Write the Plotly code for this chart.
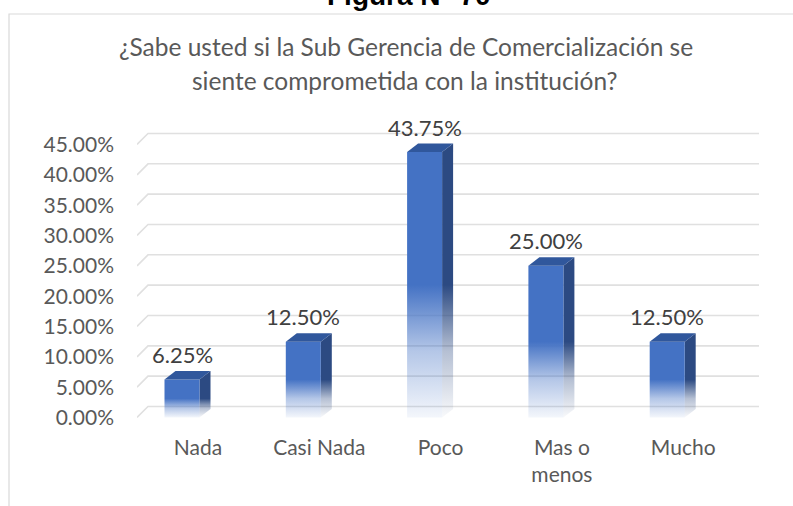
import plotly.graph_objects as go

# datos (porcentajes)
categorias = ["Nada", "Casi Nada", "Poco", "Mas o<br>menos", "Mucho"]
porcentajes = [6.25, 12.50, 43.75, 25.00, 12.50]
etiquetas = ["6.25%", "12.50%", "43.75%", "25.00%", "12.50%"]
ticks_y = [0, 5, 10, 15, 20, 25, 30, 35, 40, 45]
ticks_y_txt = ["0.00%", "5.00%", "10.00%", "15.00%", "20.00%",
               "25.00%", "30.00%", "35.00%", "40.00%", "45.00%"]

titulo_1 = "¿Sabe usted si la Sub Gerencia de Comercialización se"
titulo_2 = "siente comprometida con la institución?"
figura = "Figura N° 70"

# geometria (px -> unidades de eje)
W, H = 793, 506
L, R, T, B = 137, 34, 100, 81
PX_X = 121.3            # px por categoria
PX_Y = 6.067            # px por 1 %
x_min = -(198 - L) / PX_X
x_max = x_min + (W - L - R) / PX_X
y_min = -((H - B) - 417.5) / PX_Y
y_max = y_min + (H - T - B) / PX_Y

ancho = 35 / PX_X
desp = 16 / PX_X        # la barra queda un poco a la izquierda de la etiqueta
dx = 11 / PX_X          # profundidad 3D
dy = 8.5 / PX_Y
gdy = 11 / PX_Y         # pared del fondo

AZUL = "68,114,196"
LADO = "44,74,130"
TAPA = "#30579C"
GRIS = "#595959"
FUENTE = "Lato"


def py(px):
    # pixel vertical -> coordenada paper
    return (H - B - px) / (H - T - B)


def pxx(px):
    return (px - L) / (W - L - R)


fig = go.Figure()

# lineas de la cuadricula sobre la pared del fondo
for t in ticks_y:
    fig.add_trace(go.Scatter(
        x=[x_min, x_min + dx, x_max],
        y=[t, t + gdy, t + gdy],
        mode="lines", line=dict(color="#E0E0E0", width=1.6),
        hoverinfo="skip", showlegend=False))

for i, v in enumerate(porcentajes):
    x0 = i - desp - ancho / 2
    x1 = i - desp + ancho / 2
    # cara lateral
    fig.add_trace(go.Scatter(
        x=[x1, x1 + dx, x1 + dx, x1, x1], y=[0, dy, v + dy, v, 0],
        mode="lines", line=dict(width=0), fill="toself",
        fillgradient=dict(type="vertical", start=0, stop=v,
                          colorscale=[[0, f"rgba({LADO},0.03)"], [0.25, f"rgba({LADO},0.35)"],
                                      [0.5, f"rgba({LADO},1)"], [1, f"rgba({LADO},1)"]]),
        hoverinfo="skip", showlegend=False))
    # cara frontal
    fig.add_trace(go.Scatter(
        x=[x0, x1, x1, x0, x0], y=[0, 0, v, v, 0],
        mode="lines", line=dict(width=0), fill="toself",
        fillgradient=dict(type="vertical", start=0, stop=v,
                          colorscale=[[0, f"rgba({AZUL},0.06)"], [0.25, f"rgba({AZUL},0.4)"],
                                      [0.5, f"rgba({AZUL},1)"], [1, f"rgba({AZUL},1)"]]),
        name=categorias[i], showlegend=False))
    # tapa
    fig.add_trace(go.Scatter(
        x=[x0, x1, x1 + dx, x0 + dx, x0], y=[v, v, v + dy, v + dy, v],
        mode="lines", line=dict(width=0), fill="toself", fillcolor=TAPA,
        hoverinfo="skip", showlegend=False))
    fig.add_annotation(x=i - desp, y=v, text=etiquetas[i], showarrow=False,
                       yanchor="middle", yshift=25,
                       font=dict(family=FUENTE, size=22, color="#404040"))

# titulos
fig.add_annotation(xref="paper", yref="paper", x=pxx(406), y=py(47), text=titulo_1,
                   showarrow=False, yanchor="middle",
                   font=dict(family=FUENTE, size=24.5, color=GRIS))
fig.add_annotation(xref="paper", yref="paper", x=pxx(404), y=py(81), text=titulo_2,
                   showarrow=False, yanchor="middle",
                   font=dict(family=FUENTE, size=24.5, color=GRIS))
fig.add_annotation(xref="paper", yref="paper", x=pxx(409), y=py(-5),
                   text=f"<b>{figura}</b>", showarrow=False, yanchor="middle",
                   font=dict(family="Liberation Sans", size=28, color="black"))

# marco del grafico
fig.add_shape(type="rect", xref="paper", yref="paper", layer="below",
              x0=pxx(9), x1=1.2, y0=-0.4, y1=py(14),
              line=dict(color="#D9D9D9", width=1.2), fillcolor="rgba(0,0,0,0)")

fig.update_layout(
    width=W, height=H,
    margin=dict(l=L, r=R, t=T, b=B, autoexpand=False),
    paper_bgcolor="white", plot_bgcolor="white",
    showlegend=False,
    xaxis=dict(range=[x_min, x_max], tickvals=list(range(len(categorias))),
               ticktext=categorias, showgrid=False, zeroline=False, showline=False,
               ticks="", automargin=False,
               tickfont=dict(family=FUENTE, size=21, color=GRIS),
               ticklabelstandoff=8),
    yaxis=dict(range=[y_min, y_max], tickvals=ticks_y, ticktext=ticks_y_txt,
               showgrid=False, zeroline=False, showline=False, ticks="",
               automargin=False,
               tickfont=dict(family=FUENTE, size=21, color=GRIS),
               ticklabelstandoff=22),
)

# la pagina trae 8px de margen en el body; se quita para que la figura llene la ventana
fig.write_html("out.html", config={"displayModeBar": False},
               post_script="document.body.style.margin = '0';")
